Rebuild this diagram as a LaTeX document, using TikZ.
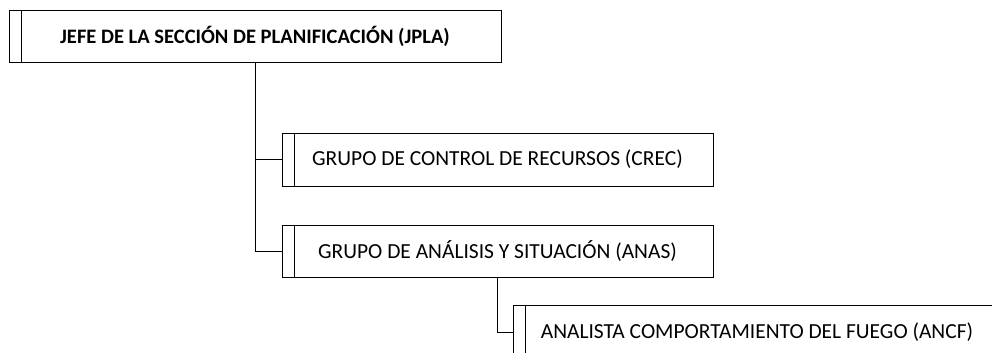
\documentclass[tikz,border=0pt]{standalone}
\usepackage{fontspec}
\setmainfont{Carlito}
\tikzset{
  orgbox/.style={draw,rectangle,inner sep=0pt,font=\fontsize{16.1}{19}\selectfont,
    path picture={\draw ([xshift=9pt]path picture bounding box.north west) -- ([xshift=9pt]path picture bounding box.south west);}},
  link/.style={draw,line width=0.6pt}
}
\begin{document}
\begin{tikzpicture}[x=0.75pt,y=-0.75pt,line width=0.6pt]
            \path[use as bounding box,clip] (0,0) rectangle (992,353);
            \node[orgbox,minimum width=369pt,minimum height=39pt,font=\fontsize{15.4}{19}\selectfont\bfseries] (jpla) at (255,36) {JEFE DE LA SECCIÓN DE PLANIFICACIÓN (JPLA)};
            \node[orgbox,minimum width=323.25pt,minimum height=39.75pt] (crec) at (497.5,159.5) {GRUPO DE CONTROL DE RECURSOS (CREC)};
            \node[orgbox,minimum width=323.25pt,minimum height=39pt] (anas) at (497.5,251) {GRUPO DE ANÁLISIS Y SITUACIÓN (ANAS)};
            \node[orgbox,minimum width=366pt,minimum height=40.5pt] (ancf) at (757,332) {ANALISTA COMPORTAMIENTO DEL FUEGO (ANCF)};
            \draw[link] (jpla.south) |- (crec.west);
            \draw[link] (jpla.south) |- (anas.west);
            \draw[link] (anas.south) |- (ancf.west);
        \end{tikzpicture}
\end{document}
